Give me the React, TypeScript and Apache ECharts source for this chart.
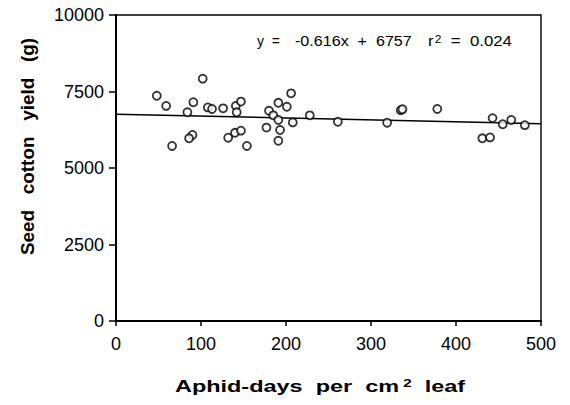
import React, { useEffect, useRef } from "react";
import * as echarts from "echarts";

const aphidDays = [48, 59, 102, 91, 84, 108, 113, 126, 141, 147, 142, 90, 86, 66, 132, 140, 147, 154,
  206, 191, 201, 180, 185, 191, 177, 193, 191, 208, 228, 261, 319, 335, 337, 378, 431, 440, 443, 455, 465, 481];
const yieldG = [7360, 7030, 7920, 7150, 6820, 6980, 6930, 6950, 7030, 7170, 6820, 6080, 5970, 5720, 5990, 6150, 6220, 5720,
  7440, 7130, 7000, 6870, 6720, 6570, 6320, 6240, 5890, 6490, 6720, 6510, 6480, 6890, 6920, 6930, 5970, 6000, 6630, 6430, 6570, 6400];
const fitX = [0, 500];
const fitY = [6757, 6449];
const xTicks = [0, 100, 200, 300, 400, 500];
const yTicks = [0, 2500, 5000, 7500, 10000];

const FONT = "'Liberation Sans', Arial, Helvetica, sans-serif";

export default function App() {
  const ref = useRef<HTMLDivElement>(null);
  useEffect(() => {
    document.body.style.margin = "0";
    if (!ref.current) return;
    const chart = echarts.init(ref.current, null, { renderer: "svg" });
    chart.setOption({
      animation: false,
      backgroundColor: "#ffffff",
      textStyle: { fontFamily: FONT },
      grid: {
        left: 116, right: 29, top: 15, bottom: 84,
        show: true, borderColor: "#000", borderWidth: 1.4, backgroundColor: "transparent",
      },
      xAxis: {
        type: "value",
        min: xTicks[0], max: xTicks[xTicks.length - 1], interval: 100,
        axisLine: { show: true, onZero: false, lineStyle: { color: "#000", width: 2 } },
        axisTick: { show: true, length: 5, lineStyle: { color: "#000", width: 1.5 } },
        axisLabel: { color: "#000", fontSize: 18, margin: 14, fontFamily: FONT, formatter: (v: number) => String(v) },
        splitLine: { show: false },
      },
      yAxis: {
        type: "value",
        min: yTicks[0], max: yTicks[yTicks.length - 1], interval: 2500,
        axisLine: { show: true, onZero: false, lineStyle: { color: "#000", width: 2 } },
        axisTick: { show: true, length: 7, lineStyle: { color: "#000", width: 1.5 } },
        axisLabel: { color: "#000", fontSize: 18, margin: 12, fontFamily: FONT, formatter: (v: number) => String(v) },
        splitLine: { show: false },
      },
      graphic: [
        {
          type: "text",
          x: 320, y: 386, scaleX: 1.38,
          style: {
            text: "{t|Aphid-days  per  cm}{s|2}{t|  leaf}",
            align: "center", verticalAlign: "middle",
            rich: {
              t: { fontSize: 17, fontWeight: "bold", fill: "#000", fontFamily: FONT },
              s: { fontSize: 11, fontWeight: "bold", fill: "#000", fontFamily: FONT, verticalAlign: "top", padding: [0, 0, 0, 3] },
            },
          },
        },
        {
          type: "text",
          x: 28, y: 146.5, rotation: Math.PI / 2, scaleX: 1.05,
          style: {
            text: "Seed   cotton   yield   (g)",
            align: "center", verticalAlign: "middle",
            fontSize: 18, fontWeight: "bold", fill: "#000", fontFamily: FONT,
          },
        },
        {
          type: "text",
          x: 257, y: 41,
          style: { text: "y  =", verticalAlign: "middle", fontSize: 14, fill: "#000", fontFamily: FONT },
        },
        {
          type: "text",
          x: 295, y: 41, scaleX: 1.15,
          style: { text: "-0.616x  +  6757", verticalAlign: "middle", fontSize: 14, fill: "#000", fontFamily: FONT },
        },
        {
          type: "text",
          x: 428, y: 41, scaleX: 1.2,
          style: {
            text: "{a|r}{s|2}{a|  =  0.024}",
            verticalAlign: "middle",
            rich: {
              a: { fontSize: 14, fill: "#000", fontFamily: FONT },
              s: { fontSize: 10, fill: "#000", fontFamily: FONT, verticalAlign: "top", padding: [0, 0, 0, 1] },
            },
          },
        },
      ],
      series: [
        {
          type: "line",
          data: fitX.map((x, i) => [x, fitY[i]]),
          showSymbol: false,
          lineStyle: { color: "#000", width: 1.5 },
          z: 2,
        },
        {
          type: "scatter",
          data: aphidDays.map((x, i) => [x, yieldG[i]]),
          symbol: "circle",
          symbolSize: 8,
          itemStyle: { color: "#fff", borderColor: "#000", borderWidth: 1.8 },
          z: 3,
        },
      ],
    });
    return () => chart.dispose();
  }, []);
  return <div ref={ref} style={{ width: 570, height: 405 }} />;
}
